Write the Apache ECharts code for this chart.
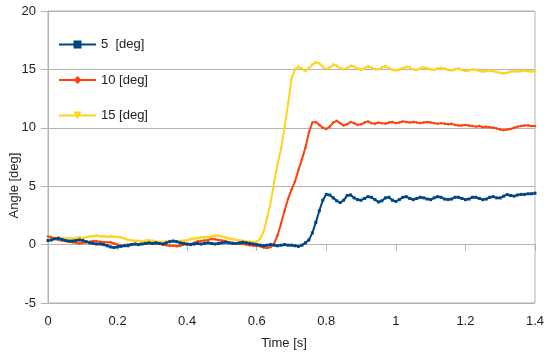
<!DOCTYPE html>
<html>
<head>
<meta charset="utf-8">
<script src="https://cdn.jsdelivr.net/npm/echarts@6/dist/echarts.min.js"></script>
<style>html,body{margin:0;padding:0;background:#fff}#c{width:550px;height:356px}</style>
</head>
<body>
<div id="c"></div>
<script>
var seriesNames = ['5  [deg]', '10 [deg]', '15 [deg]'];
var xTicks = [0, 0.2, 0.4, 0.6, 0.8, 1.0, 1.2, 1.4];
var yTicks = [-5, 0, 5, 10, 15, 20];
var timeStep = 0.01;

var angle5 = [
  0.35, 0.4, 0.5, 0.55, 0.45, 0.35, 0.3, 0.3, 0.35, 0.4,
  0.35, 0.25, 0.15, 0.1, 0.05, 0.05, 0.0, -0.1, -0.2, -0.25,
  -0.2, -0.15, -0.1, -0.1, 0.0, 0.05, 0.0, 0.05, 0.1, 0.15,
  0.1, 0.15, 0.1, 0.05, 0.15, 0.25, 0.3, 0.25, 0.15, 0.1,
  0.05, 0.0, 0.05, 0.1, 0.05, 0.1, 0.15, 0.1, 0.05, 0.1,
  0.15, 0.2, 0.15, 0.1, 0.1, 0.15, 0.2, 0.15, 0.1, 0.05,
  0.0, -0.05, -0.1, -0.05, 0.0, -0.05, -0.1, -0.05, 0.0, -0.05,
  -0.05, -0.1, -0.15, -0.05, 0.15, 0.4, 1.0, 1.9, 2.9, 3.8,
  4.3, 4.25, 4.0, 3.75, 3.6, 3.8, 4.2, 4.25, 4.0, 3.85,
  3.8, 3.95, 4.1, 4.05, 3.85, 3.65, 3.75, 4.0, 4.05, 3.8,
  3.7, 3.85, 4.05, 4.1, 3.95, 3.85, 3.95, 4.05, 4.0, 3.9,
  3.85, 4.0, 4.1, 4.05, 3.9, 3.85, 3.9, 4.05, 4.05, 3.95,
  3.85, 3.9, 4.05, 4.05, 3.95, 3.85, 3.9, 4.05, 4.1, 4.0,
  4.0, 4.15, 4.28, 4.2, 4.15, 4.25, 4.3, 4.3, 4.35, 4.35,
  4.4
];
var angle10 = [
  0.7, 0.6, 0.5, 0.4, 0.35, 0.3, 0.25, 0.2, 0.15, 0.1,
  0.15, 0.2, 0.25, 0.3, 0.28, 0.25, 0.2, 0.2, 0.2, 0.1,
  0.0, -0.1, -0.05, 0.0, 0.0, 0.05, 0.0, 0.05, 0.1, 0.1,
  0.1, 0.05, 0.1, 0.0, -0.05, -0.1, -0.1, -0.15, -0.1, 0.0,
  0.0, 0.05, 0.15, 0.28, 0.3, 0.35, 0.4, 0.48, 0.45, 0.4,
  0.35, 0.3, 0.2, 0.15, 0.1, 0.05, 0.05, 0.0, -0.05, -0.1,
  -0.1, -0.15, -0.25, -0.3, -0.2, 0.1, 0.8, 1.8, 2.9, 3.9,
  4.7, 5.4, 6.4, 7.3, 8.3, 9.6, 10.45, 10.5, 10.25, 10.0,
  9.9, 10.1, 10.45, 10.6, 10.4, 10.2, 10.3, 10.5, 10.4, 10.25,
  10.3, 10.45, 10.55, 10.4, 10.35, 10.45, 10.4, 10.35, 10.45, 10.5,
  10.4, 10.45, 10.55, 10.5, 10.45, 10.5, 10.45, 10.4, 10.45, 10.5,
  10.45, 10.4, 10.35, 10.4, 10.35, 10.3, 10.35, 10.25, 10.2, 10.2,
  10.25, 10.2, 10.15, 10.1, 10.15, 10.05, 10.1, 10.05, 10.0, 9.95,
  9.85, 9.8, 9.85, 9.9, 10.0, 10.1, 10.15, 10.2, 10.2, 10.15,
  10.15
];
var angle15 = [
  0.7, 0.65, 0.55, 0.5, 0.5, 0.55, 0.5, 0.5, 0.55, 0.6,
  0.55, 0.6, 0.7, 0.7, 0.75, 0.7, 0.7, 0.65, 0.7, 0.65,
  0.65, 0.6, 0.5, 0.4, 0.35, 0.3, 0.3, 0.25, 0.3, 0.35,
  0.3, 0.25, 0.2, 0.2, 0.25, 0.3, 0.3, 0.25, 0.3, 0.3,
  0.35, 0.45, 0.5, 0.55, 0.6, 0.6, 0.65, 0.7, 0.75, 0.75,
  0.7, 0.6, 0.5, 0.45, 0.4, 0.35, 0.3, 0.25, 0.25, 0.2,
  0.25, 0.5, 1.1, 2.3, 3.6, 5.3, 6.9, 8.2, 10.0, 12.0,
  14.2, 15.0, 15.2, 15.05, 14.85, 15.1, 15.4, 15.6, 15.5, 15.2,
  15.0, 15.15, 15.4, 15.3, 15.1, 15.0, 15.1, 15.3, 15.25, 15.05,
  14.95, 15.1, 15.25, 15.15, 15.0, 15.0, 15.15, 15.25, 15.1, 14.95,
  14.9, 15.0, 15.1, 15.2, 15.15, 15.0, 14.95, 15.05, 15.15, 15.1,
  15.0, 14.95, 15.05, 15.1, 15.05, 14.95, 14.9, 15.0, 15.05, 14.95,
  14.85, 14.9, 15.0, 14.95, 14.85, 14.8, 14.85, 14.9, 14.85, 14.75,
  14.7, 14.65, 14.7, 14.8, 14.85, 14.8, 14.85, 14.9, 14.85, 14.8,
  14.85
];

function pairs(arr) {
  return arr.map(function (v, i) { return [+(i * timeStep).toFixed(2), v]; });
}

var colors = ['#004586', '#ff420e', '#ffd320'];
var symbols = ['rect', 'diamond', 'triangle'];
var rotations = [0, 0, 180];
var dataSets = [angle5, angle10, angle15];

var series = dataSets.map(function (d, i) {
  return {
    name: seriesNames[i],
    type: 'line',
    data: pairs(d),
    symbol: symbols[i],
    symbolRotate: rotations[i],
    symbolSize: 3,
    showAllSymbol: true,
    lineStyle: { color: colors[i], width: 2 },
    itemStyle: { color: colors[i] },
    animation: false,
    z: 3 - i
  };
});

var chart = echarts.init(document.getElementById('c'), null, { renderer: 'canvas' });
chart.setOption({
  animation: false,
  textStyle: { fontFamily: 'Liberation Sans, Arial, sans-serif' },
  grid: { left: 48, right: 15, top: 11, bottom: 53, containLabel: false, outerBoundsMode: 'none', show: true, borderColor: '#b3b3b3', borderWidth: 1 },
  legend: {
    orient: 'vertical',
    left: 53,
    top: 33,
    itemWidth: 37,
    itemHeight: 10,
    itemGap: 22.5,
    textStyle: { fontSize: 13, color: '#222', fontFamily: 'Liberation Sans, Arial, sans-serif' },
    data: seriesNames.map(function (n) { return { name: n }; })
  },
  xAxis: {
    type: 'value',
    min: xTicks[0],
    max: xTicks[xTicks.length - 1],
    interval: 0.2,
    name: 'Time [s]',
    nameLocation: 'middle',
    nameGap: 34,
    nameMoveOverlap: false,
    nameTextStyle: { fontSize: 13, color: '#222', padding: [0, 15, 0, 0] },
    axisLine: { show: true, lineStyle: { color: '#b3b3b3' } },
    axisTick: { show: true, length: 6, lineStyle: { color: '#b3b3b3' } },
    axisLabel: { fontSize: 13, color: '#222', margin: 12, formatter: function (v) { return String(+v.toFixed(1)); } },
    splitLine: { show: false }
  },
  yAxis: {
    type: 'value',
    min: yTicks[0],
    max: yTicks[yTicks.length - 1],
    interval: 5,
    name: 'Angle [deg]',
    nameLocation: 'middle',
    nameGap: 27,
    nameMoveOverlap: false,
    nameTextStyle: { fontSize: 13, color: '#222', padding: [0, 57, 0, 0] },
    axisLine: { show: true, lineStyle: { color: '#b3b3b3' } },
    axisTick: { show: true, length: 7, lineStyle: { color: '#b3b3b3' } },
    axisLabel: { fontSize: 13, color: '#222', margin: 12 },
    splitLine: { show: true, lineStyle: { color: '#b3b3b3', width: 1 } }
  },
  series: series
});
</script>
</body>
</html>
